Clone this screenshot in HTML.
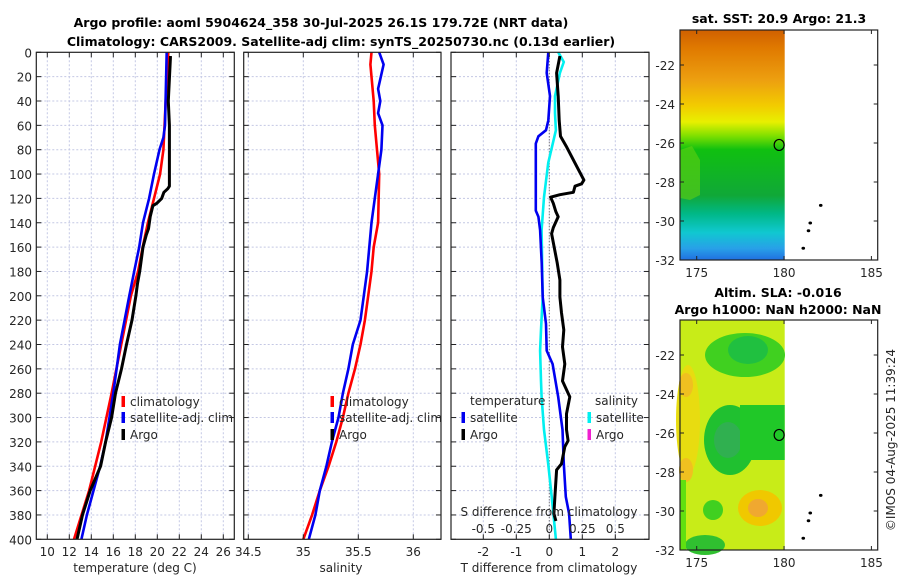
<!DOCTYPE html>
<html><head><meta charset="utf-8"><style>
body{margin:0;background:#fff;}
svg{display:block;font-family:"DejaVu Sans","Liberation Sans",sans-serif;}
.t{font-size:12px;fill:#262626;}
.ti{font-size:12.5px;font-weight:bold;fill:#000;}
.grid{stroke:#c4c8e4;stroke-width:1;stroke-dasharray:2,2;}
</style></head><body>
<svg id="chart" width="900" height="580" viewBox="0 0 900 580">
<g id="titles">
<text class="ti" x="321" y="27" text-anchor="middle">Argo profile: aoml 5904624_358 30-Jul-2025 26.1S 179.72E (NRT data)</text>
<text class="ti" x="341" y="46" text-anchor="middle">Climatology: CARS2009. Satellite-adj clim: synTS_20250730.nc (0.13d earlier)</text>
<text class="ti" x="779" y="23" text-anchor="middle">sat. SST: 20.9 Argo: 21.3</text>
<text class="ti" x="778" y="297" text-anchor="middle">Altim. SLA: -0.016</text>
<text class="ti" x="778" y="314" text-anchor="middle">Argo h1000: NaN h2000: NaN</text>
<text class="t" x="0" y="0" transform="translate(895,440) rotate(-90)" text-anchor="middle">©IMOS 04-Aug-2025 11:39:24</text>
</g>
<g id="p1"></g>
<g id="p2"></g>
<g id="p3"></g>
<g id="maps">
<defs>
<linearGradient id="sstg" x1="0" y1="0" x2="0" y2="1">
<stop offset="0" stop-color="#d06000"/><stop offset="0.08" stop-color="#e07a00"/>
<stop offset="0.22" stop-color="#eda010"/><stop offset="0.33" stop-color="#f2cc00"/>
<stop offset="0.4" stop-color="#e8f000"/><stop offset="0.46" stop-color="#80e000"/>
<stop offset="0.52" stop-color="#10c010"/><stop offset="0.72" stop-color="#10a838"/>
<stop offset="0.8" stop-color="#00b888"/><stop offset="0.88" stop-color="#10c8d0"/>
<stop offset="0.95" stop-color="#28a0e8"/><stop offset="1" stop-color="#2070e0"/>
</linearGradient>
</defs>
<rect x="680" y="30" width="104.7" height="230" fill="url(#sstg)"/>
<path d="M680,150 L692,146 L700,160 L700,195 L690,200 L680,198 Z" fill="#60d010" opacity="0.6"/>
<g>
<rect x="680" y="320" width="104.7" height="230" fill="#c8ec18"/>
<ellipse cx="745" cy="355" rx="40" ry="22" fill="#40d020"/>
<ellipse cx="748" cy="350" rx="20" ry="14" fill="#20c040"/>
<ellipse cx="730" cy="440" rx="26" ry="35" fill="#20c030"/>
<ellipse cx="728" cy="440" rx="14" ry="18" fill="#30b050"/>
<rect x="740" y="405" width="44.7" height="55" fill="#20c828"/>
<ellipse cx="688" cy="420" rx="12" ry="55" fill="#e8dc10"/>
<ellipse cx="686" cy="385" rx="7" ry="12" fill="#f0c020"/>
<ellipse cx="686" cy="470" rx="7" ry="12" fill="#f0c020"/>
<ellipse cx="760" cy="508" rx="22" ry="18" fill="#f0c800"/>
<ellipse cx="758" cy="508" rx="10" ry="9" fill="#f0a830"/>
<ellipse cx="713" cy="510" rx="10" ry="10" fill="#40d020"/>
<ellipse cx="705" cy="545" rx="20" ry="10" fill="#30c030"/>
<rect x="680" y="480" width="6" height="70" fill="#60e010"/>
</g>
</g>
<g id="mapaxes"></g>
</svg>
<script>
// ---- data ----
const depthTicks=[0,20,40,60,80,100,120,140,160,180,200,220,240,260,280,300,320,340,360,380,400];
const tTicks=[10,12,14,16,18,20,22,24,26];
const sTicks=[34.5,35,35.5,36];
const sTickLabels=["34.5","35","35.5","36"];
const dTicks=[-2,-1,0,1,2];
const sdTicks=[-0.5,-0.25,0,0.25,0.5];
const sdTickLabels=["-0.5","-0.25","0","0.25","0.5"];

const tClimDepth=[0,40,80,100,120,140,160,180,200,280,320,360,400];
const tClimVal=[21.0,20.76,20.55,20.25,19.7,19.15,18.67,18.25,17.6,15.85,14.9,13.8,12.43];
const tSatDepth=[0,60,70,80,100,120,140,160,180,200,240,280,320,340,360,380,400];
const tSatVal=[20.85,20.7,20.55,20.2,19.7,19.25,18.7,18.35,17.9,17.45,16.6,16.0,15.3,14.8,14.2,13.6,13.1];
const tArgoDepth=[3,40,60,110,112,115,120,124,126,135,145,150,160,180,190,200,220,240,260,280,300,320,340,360,380,400];
const tArgoVal=[21.2,21.0,21.1,21.1,20.95,20.6,20.4,19.95,19.6,19.35,19.2,19.0,18.7,18.4,18.2,18.05,17.7,17.2,16.75,16.2,15.85,15.3,14.85,13.9,13.2,12.7];

const sClimDepth=[0,10,40,60,80,100,140,160,180,200,220,240,260,280,300,320,340,360,380,400];
const sClimVal=[35.62,35.61,35.64,35.65,35.67,35.69,35.68,35.64,35.62,35.59,35.56,35.52,35.47,35.41,35.36,35.30,35.23,35.15,35.08,35.0];
const sSatDepth=[0,10,30,40,50,60,80,100,140,160,180,200,220,240,260,280,300,320,340,360,380,400];
const sSatVal=[35.69,35.73,35.68,35.70,35.68,35.72,35.71,35.68,35.62,35.60,35.58,35.55,35.52,35.45,35.41,35.36,35.32,35.26,35.21,35.15,35.11,35.05];

const dTSatDepth=[0,17,36,56,64,69,75,94,130,135,146,173,201,223,245,256,283,310,338,365,379,400];
const dTSatVal=[-0.03,-0.08,0.02,-0.03,-0.1,-0.33,-0.41,-0.41,-0.41,-0.33,-0.28,-0.23,-0.2,-0.1,-0.08,0.1,0.27,0.4,0.44,0.5,0.6,0.65];
const dSSatDepth=[0,8,17,36,50,64,91,119,146,201,228,245,270,283,310,338,365,400];
const dSSatVal=[0.068,0.11,0.08,0.043,0.043,0.05,-0.008,-0.04,-0.058,-0.05,-0.063,-0.07,-0.063,-0.058,-0.04,-0.008,0.018,0.05];
const dTArgoDepth=[3,17,36,56,69,78,91,105,108,110,115,117,119,124,131,135,144,149,173,187,201,214,228,242,256,270,283,297,310,319,324,338,343,365,379,385];
const dTArgoVal=[0.32,0.22,0.27,0.3,0.34,0.53,0.78,1.05,0.98,0.78,0.73,0.32,0.04,0.12,0.2,0.27,0.12,0.07,0.24,0.32,0.32,0.37,0.44,0.4,0.47,0.4,0.62,0.52,0.52,0.57,0.47,0.37,0.22,0.17,0.14,0.2];

const latTicks=[-22,-24,-26,-28,-30,-32];
const lonTicks=[175,180,185];
const argoLon=179.72, argoLat=-26.1;
const islandLon=[182.1,181.5,181.4,181.1];
const islandLat=[-29.2,-30.1,-30.5,-31.4];

// ---- axes ----
const yTop=52.3, yBot=539.3;
const yD=d=>yTop+d*(yBot-yTop)/400;
const xT=t=>47.3+(t-10)*11;
const xS=s=>248.3+(s-34.5)*110;
const xD=v=>549.3+v*33;
const xSD=v=>549.3+v*132;
const panels=[{g:'p1',x0:36.3,x1:234.3},{g:'p2',x0:243.7,x1:441},{g:'p3',x0:451,x1:649}];
const NS='http://www.w3.org/2000/svg';
function el(parent,tag,attrs,text){const e=document.createElementNS(NS,tag);for(const k in attrs)e.setAttribute(k,attrs[k]);if(text!==undefined)e.textContent=text;parent.appendChild(e);return e;}
function line(g,d,v,fx,col,name,w){
  const pts=d.map((dd,i)=>fx(v[i]).toFixed(1)+','+yD(dd).toFixed(1)).join(' ');
  const p=el(g,'polyline',{points:pts,fill:'none',stroke:col,'stroke-width':w||2.6,'stroke-linejoin':'round'});
  
  
}
function frame(P,xt,fx){
  const g=document.getElementById(P.g);
  xt.forEach(t=>el(g,'line',{x1:fx(t),x2:fx(t),y1:yTop,y2:yBot,class:'grid'}));
  depthTicks.forEach(d=>{if(d>0&&d<400)el(g,'line',{x1:P.x0,x2:P.x1,y1:yD(d),y2:yD(d),class:'grid'});});
  return g;
}
function border(g,P,xt,fx,labels,showY,nm){
  depthTicks.forEach(d=>{el(g,'line',{x1:P.x0,x2:P.x0+5,y1:yD(d),y2:yD(d),stroke:'#222'});el(g,'line',{x1:P.x1-5,x2:P.x1,y1:yD(d),y2:yD(d),stroke:'#222'});
    if(showY){const t=el(g,'text',{x:32,y:yD(d)+5,'text-anchor':'end',class:'t'},String(d));}});
  xt.forEach((t,i)=>{el(g,'line',{x1:fx(t),x2:fx(t),y1:yBot,y2:yBot-5,stroke:'#222'});el(g,'line',{x1:fx(t),x2:fx(t),y1:yTop,y2:yTop+5,stroke:'#222'});
    const tx=el(g,'text',{x:fx(t),y:556,'text-anchor':'middle',class:'t'},labels[i]);});
  el(g,'rect',{x:P.x0,y:yTop,width:P.x1-P.x0,height:yBot-yTop,fill:'none',stroke:'#222','stroke-width':1.2});
}
// panel 1
let P=panels[0],g=frame(P,tTicks,xT);
line(g,tClimDepth,tClimVal,xT,'#f00','temp-climatology-line');
line(g,tSatDepth,tSatVal,xT,'#0000f0','temp-satellite-line');
line(g,tArgoDepth,tArgoVal,xT,'#000','temp-argo-line',3);
border(g,P,tTicks,xT,tTicks.map(String),true,'temperature');
el(g,'text',{x:135,y:572,'text-anchor':'middle',class:'t'},'temperature (deg C)');
// panel 2
P=panels[1];g=frame(P,sTicks,xS);
line(g,sClimDepth,sClimVal,xS,'#f00','sal-climatology-line');
line(g,sSatDepth,sSatVal,xS,'#0000f0','sal-satellite-line');
border(g,P,sTicks,xS,sTickLabels,false,'salinity');
el(g,'text',{x:341,y:572,'text-anchor':'middle',class:'t'},'salinity');
// panel 3
P=panels[2];g=frame(P,dTicks,xD);
el(g,'line',{x1:xD(0),x2:xD(0),y1:yTop,y2:yBot,stroke:'#555','stroke-dasharray':'1,2'});
line(g,dSSatDepth,dSSatVal,xSD,'#00f0f0','sal-diff-satellite-line');
line(g,dTSatDepth,dTSatVal,xD,'#0000f0','temp-diff-satellite-line');
line(g,dTArgoDepth,dTArgoVal,xD,'#000','temp-diff-argo-line',3);
border(g,P,dTicks,xD,dTicks.map(String),false,'t-diff');
el(g,'text',{x:549,y:572,'text-anchor':'middle',class:'t'},'T difference from climatology');
el(g,'text',{x:549,y:516,'text-anchor':'middle',class:'t'},'S difference from climatology');
sdTicks.forEach((v,i)=>{const t=el(g,'text',{x:xSD(v),y:533,'text-anchor':'middle',class:'t'},sdTickLabels[i]);});
// legends
function leg(gid,x,y,col,txt,nm){const g=document.getElementById(gid);el(g,'rect',{x:x-1.5,y:y-10,width:3.5,height:11,fill:col});const t=el(g,'text',{x:x+7,y:y,class:'t'},txt);}
leg('p1',123,406,'#f00','climatology','legend-climatology');
leg('p1',123,422,'#0000f0','satellite-adj. clim','legend-satellite-adj');
leg('p1',123,439,'#000','Argo','legend-argo');
leg('p2',332,406,'#f00','climatology','legend-climatology-sal');
leg('p2',332,422,'#0000f0','satellite-adj. clim','legend-satellite-adj-sal');
leg('p2',332,439,'#000','Argo','legend-argo-sal');
el(document.getElementById('p3'),'text',{x:470,y:405,class:'t'},'temperature');
el(document.getElementById('p3'),'text',{x:595,y:405,class:'t'},'salinity');
leg('p3',463,422,'#0000f0','satellite','legend-temp-satellite');
leg('p3',463,439,'#000','Argo','legend-temp-argo');
leg('p3',589,422,'#00f0f0','satellite','legend-sal-satellite');
leg('p3',589,439,'#f020d0','Argo','legend-sal-argo');
// maps
const mg=document.getElementById('mapaxes');
const mx=lon=>696.7+(lon-175)*17.47;
[0,290].forEach((off,k)=>{
  const my=lat=>65+off+(-22-lat)*19.5;
  el(mg,'rect',{x:680,y:30+off,width:197.7,height:230,fill:'none',stroke:'#222','stroke-width':1.2});
  latTicks.forEach(l=>{el(mg,'line',{x1:680,x2:684,y1:my(l),y2:my(l),stroke:'#222'});el(mg,'line',{x1:873.7,x2:877.7,y1:my(l),y2:my(l),stroke:'#222'});
    const t=el(mg,'text',{x:675,y:my(l)+5,'text-anchor':'end',class:'t'},String(l));});
  lonTicks.forEach(l=>{el(mg,'line',{x1:mx(l),x2:mx(l),y1:260+off,y2:256+off,stroke:'#222'});el(mg,'line',{x1:mx(l),x2:mx(l),y1:30+off,y2:34+off,stroke:'#222'});
    const t=el(mg,'text',{x:mx(l),y:277+off,'text-anchor':'middle',class:'t'},String(l));});
  const c=el(mg,'ellipse',{cx:mx(argoLon),cy:my(argoLat),rx:5,ry:5.5,fill:'none',stroke:'#000','stroke-width':1.2});
  
  
  islandLon.forEach((lo,i)=>{const d=el(mg,'ellipse',{cx:mx(lo),cy:my(islandLat[i]),rx:1.8,ry:1.5,fill:'#000'});
    
    });
});
</script>
</body></html>
